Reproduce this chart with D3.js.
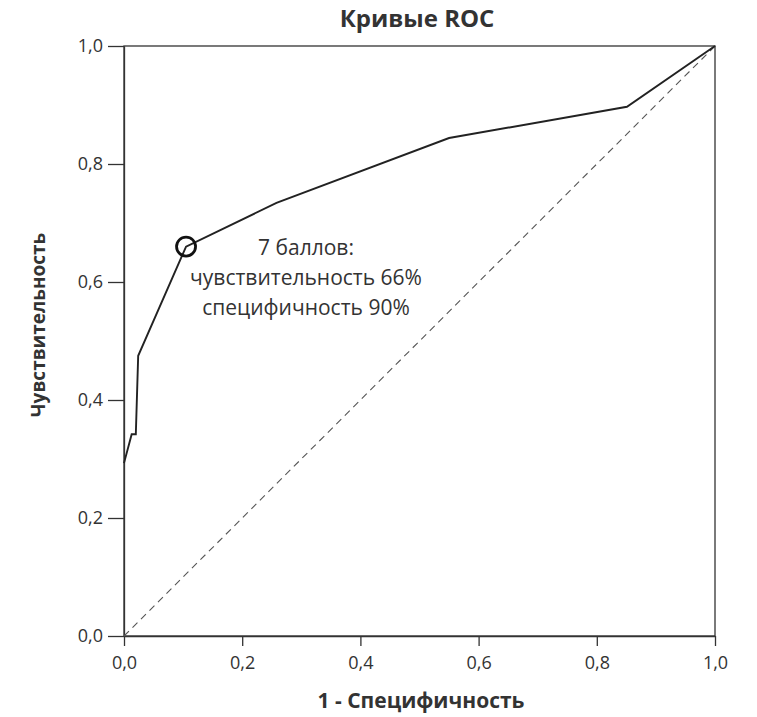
<!DOCTYPE html>
<html>
<head>
  <meta charset="utf-8">
  <style type="text/css">
    body { margin: 0; background: #fff; }
    text { font-family: "Open Sans", "Noto Sans", sans-serif; fill: #333; }
    .axis path, .axis line { stroke: #333; stroke-width: 1.3; }
    .axis text { font-size: 18px; fill: #333; font-family: "Open Sans", sans-serif; }
  </style>
  <script src="https://d3js.org/d3.v7.min.js"></script>
</head>
<body>
  <div id="chart"></div>
  <script type="text/javascript">
    // ROC curve points (1 - specificity, sensitivity)
    var fpr = [0.0, 0.013, 0.020, 0.024, 0.105, 0.258, 0.550, 0.851, 1.0];
    var tpr = [0.293, 0.342, 0.342, 0.475, 0.660, 0.734, 0.844, 0.897, 1.0];
    var ticks = [0, 0.2, 0.4, 0.6, 0.8, 1.0];
    var cutoff = { x: 0.105, y: 0.66 };
    var noteLines = ["7 баллов:", "чувствительность 66%", "специфичность 90%"];

    var width = 757, height = 717;
    var margin = { left: 124, right: 42, top: 46, bottom: 81 };

    var svg = d3.select("#chart")
      .append("svg")
        .attr("width", width)
        .attr("height", height);

    var x = d3.scaleLinear().domain([0, 1]).range([margin.left, width - margin.right]);
    var y = d3.scaleLinear().domain([0, 1]).range([height - margin.bottom, margin.top]);

    var fmt = function(d) { return d3.format(".1f")(d).replace(".", ","); };

    // frame
    svg.append("rect")
      .attr("x", x(0)).attr("y", y(1))
      .attr("width", x(1) - x(0)).attr("height", y(0) - y(1))
      .attr("fill", "none").attr("stroke", "#333").attr("stroke-width", 1.3);

    svg.append("g")
      .attr("class", "axis")
      .attr("transform", "translate(0," + y(0) + ")")
      .call(d3.axisBottom(x).tickValues(ticks).tickFormat(fmt).tickSize(10).tickPadding(10).tickSizeOuter(0));

    svg.append("g")
      .attr("class", "axis")
      .attr("transform", "translate(" + x(0) + ",0)")
      .call(d3.axisLeft(y).tickValues(ticks).tickFormat(fmt).tickSize(16).tickPadding(5).tickSizeOuter(0));

    // diagonal reference
    svg.append("line")
      .attr("x1", x(0)).attr("y1", y(0))
      .attr("x2", x(1)).attr("y2", y(1))
      .attr("stroke", "#555").attr("stroke-width", 1.1)
      .attr("stroke-dasharray", "7,5");

    var pts = fpr.map(function(d, i) { return [d, tpr[i]]; });
    var line = d3.line().x(function(d) { return x(d[0]); }).y(function(d) { return y(d[1]); });

    svg.append("path")
      .datum(pts)
      .attr("d", line)
      .attr("fill", "none")
      .attr("stroke", "#222")
      .attr("stroke-width", 1.9);

    svg.append("circle")
      .attr("cx", x(cutoff.x)).attr("cy", y(cutoff.y))
      .attr("r", 9.5)
      .attr("fill", "none")
      .attr("stroke", "#111")
      .attr("stroke-width", 2.8);

    svg.append("text")
      .attr("x", 306).attr("y", 255)
      .attr("text-anchor", "middle")
      .style("font-size", "21px")
      .selectAll("tspan")
      .data(noteLines)
      .enter().append("tspan")
        .attr("x", 306)
        .attr("dy", function(d, i) { return i === 0 ? 0 : 30; })
        .text(function(d) { return d; });

    // titles
    svg.append("text")
      .attr("x", 417).attr("y", 27)
      .attr("text-anchor", "middle")
      .style("font-size", "24px").style("font-weight", "bold")
      .text("Кривые ROC");

    svg.append("text")
      .attr("x", 421).attr("y", 708)
      .attr("text-anchor", "middle")
      .style("font-size", "21px").style("font-weight", "bold")
      .text("1 - Специфичность");

    svg.append("text")
      .attr("transform", "translate(45," + 325 + ") rotate(-90)")
      .attr("text-anchor", "middle")
      .style("font-size", "19px").style("font-weight", "bold")
      .text("Чувствительность");
  </script>
</body>
</html>
